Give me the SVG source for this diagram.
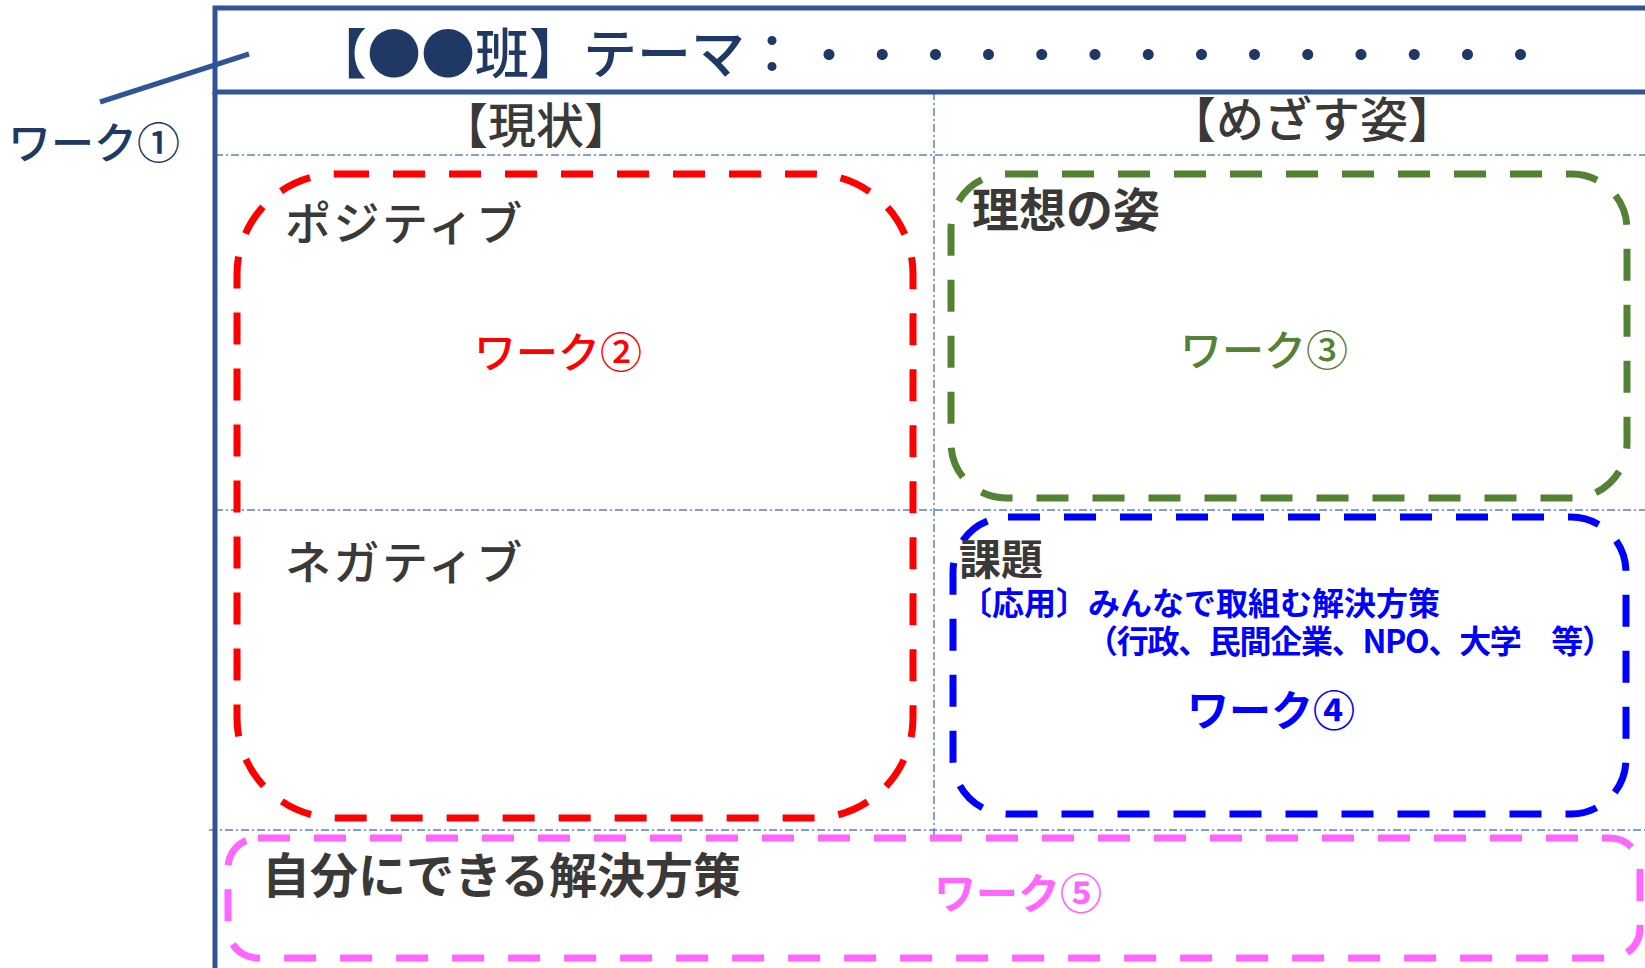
<svg xmlns="http://www.w3.org/2000/svg" width="1645" height="968" viewBox="0 0 1645 968">
<style>
text{font-family:"Noto Sans CJK JP","Noto Sans",sans-serif;}
.navy{fill:#203864;}
.gray{fill:#3b3838;}
.med{font-weight:500;}
.grid{stroke:#5b82cc;stroke-width:1.5;fill:none;stroke-dasharray:8 3 2 3;}
.frame{stroke:#2f5597;stroke-width:5;fill:none;}
.box{fill:none;stroke-width:7;stroke-dasharray:32 24;}
</style>
<rect width="1645" height="968" fill="#ffffff"/>
<g id="grid">
<line class="grid" x1="215" y1="155" x2="1645" y2="155"/>
<line class="grid" x1="215" y1="510" x2="1645" y2="510"/>
<line class="grid" x1="209" y1="830" x2="1645" y2="830"/>
<line class="grid" x1="934" y1="92" x2="934" y2="838"/>
</g>
<g id="title">
<rect class="frame" x="215" y="8" width="1440" height="84"/>
<line class="frame" x1="215" y1="92" x2="215" y2="968"/>
<text class="navy med" x="313" y="74" font-size="54">【●●班】テーマ：</text>
<text class="navy" x="803" y="74" font-size="52" letter-spacing="1.2">・・・・・・・・・・・・・・</text>
</g>
<g id="work1">
<text class="navy med" x="8" y="159" font-size="43">ワーク①</text>
</g>
<g id="header-current">
<text class="gray med" x="536" y="143" font-size="48" text-anchor="middle">【現状】</text>
</g>
<g id="header-goal">
<text class="gray med" x="1312" y="137" font-size="48" text-anchor="middle">【めざす姿】</text>
</g>
<g id="box-current">
<rect class="box" x="237" y="174" width="676" height="644" rx="100" ry="100" stroke="#ff0000"/>
<text class="gray med" x="285" y="240" font-size="46" letter-spacing="2.5">ポジティブ</text>
<text class="gray med" x="285" y="579" font-size="46" letter-spacing="2.5">ネガティブ</text>
<text class="med" x="474" y="368" font-size="42" fill="#ff0000">ワーク②</text>
</g>
<g id="box-ideal">
<rect class="box" x="951" y="174" width="676" height="324" rx="55" ry="55" stroke="#548235"/>
<text class="gray" x="972" y="227" font-size="47" font-weight="bold">理想の姿</text>
<text class="med" x="1180" y="366" font-size="42" fill="#548235">ワーク③</text>
</g>
<g id="box-issue">
<rect class="box" x="953" y="517" width="673" height="297" rx="55" ry="55" stroke="#0000ff"/>
<text class="gray" x="959" y="575" font-size="42" font-weight="bold">課題</text>
<text x="960" y="615" font-size="32" fill="#0000ff" font-weight="bold">〔応用〕みんなで取組む解決方策</text>
<text x="1086" y="653" font-size="32" fill="#0000ff" font-weight="bold" textLength="528" lengthAdjust="spacing">（行政、民間企業、NPO、大学　等）</text>
<text x="1187" y="726" font-size="42" fill="#0000ff" font-weight="bold">ワーク④</text>
</g>
<g id="box-self">
<rect class="box" x="228" y="838" width="1412" height="120" rx="30" ry="30" stroke="#ff66ff"/>
<text class="gray" x="262" y="893" font-size="48" font-weight="bold">自分にできる解決方策</text>
<text x="934" y="909" font-size="42" fill="#ff66ff" font-weight="bold">ワーク⑤</text>
</g>
<g id="connectors">
<line x1="100" y1="102" x2="249" y2="54" stroke="#2f5597" stroke-width="5"/>
</g>
</svg>
